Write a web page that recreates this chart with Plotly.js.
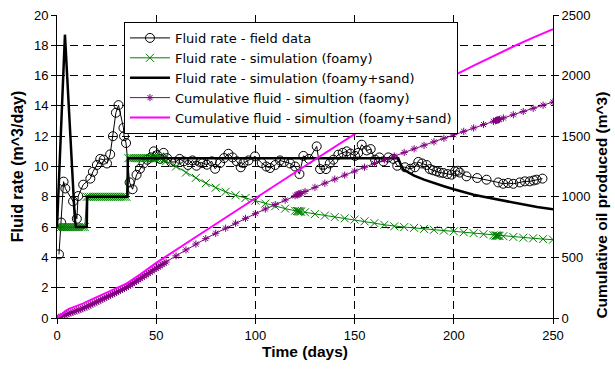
<!DOCTYPE html>
<html>
<head>
<meta charset="utf-8">
<script src="https://cdn.plot.ly/plotly-3.0.1.min.js"></script>
<style>html,body{margin:0;padding:0;background:#fff;}#chart{width:615px;height:373px;}</style>
</head>
<body>
<div id="chart"></div>
<script>
// Field data (fluid rate, m^3/day)
const fieldDays = [1,2.1,3.3,4.2,8.1,10,10.7,13.2,16.8,18.1,20.1,21.8,23.5,25.2,26.8,28.2,29.7,31,33.5,33.8,34.8,36.6,38.1,40.1,41.8,43.6,45.5,47.3,48.8,50.5,52,53.7,55.5,57.5,59.6,61.8,63.8,66,68.3,70.3,72.2,73.5,75.5,78,79.7,82.2,84.2,86.4,88.5,90.6,92.6,94,96.5,99.8,103.2,105.5,107.4,110,112.4,114.5,117.5,120,122.2,124.2,127,130.9,132.6,135.6,137.5,139.3,141.8,144,146,148,150.2,151.8,153.6,156.1,158.1,160.3,162.5,164.5,167,169.5,171.5,175.4,178,180.4,182.1,184,186.3,187.9,189.5,191.3,193,194.7,196.8,198.9,200.6,202,203,206.4,211.8,216.5,222.4,224.9,227.4,230,233.3,235.8,238.3,240.3,241.7,244.7];
const fieldRate = [4.2,6.3,9.0,8.55,7.7,6.55,8.05,8.8,9.2,9.65,10.1,10.5,10.45,10.2,10.8,12.0,13.55,14.05,12.55,12.0,11.55,8.95,8.5,9.45,9.85,10.2,10.45,10.6,11.0,10.75,10.5,10.9,10.55,10.3,10.3,10.5,10.34,10.1,10.4,10.05,10.27,10.23,10.12,10.34,9.85,10.23,10.56,10.84,10.6,10.34,9.95,10.23,10.4,10.67,10.23,10.0,9.9,10.1,10.4,10.3,10.2,10.0,9.5,10.7,10.5,11.33,9.83,9.83,10.2,10.45,10.78,10.9,11.0,10.85,10.7,10.9,11.44,11.06,11.15,10.45,10.6,10.34,10.6,10.5,10.05,9.95,9.85,9.95,10.3,10.2,10.1,9.83,9.75,9.68,9.6,9.57,9.5,9.46,9.68,9.72,9.6,9.35,9.24,9.13,8.95,8.86,8.91,8.86,8.95,9.02,9.02,9.08,9.13,9.2];

// Simulation output times (foamy model)
const simDays = [0,1,2,3,4,5,6,7,8,9,10,11,12,13,14,15,16,17,18,19,20,21,22,23,24,25,26,27,28,29,30,31,32,33,34,35,36,37,38,39,40,41,42,43,44,45,46,47,48,49,50,51,52,53,54,55,60,65,70,75,80,85,90,95,100,105,110,115,120,121,121.5,122,122.5,123,125,130,135,140,145,150,155,160,165,170,175,180,185,190,195,200,205,210,215,220,221,221.5,222,222.5,223,225,230,235,240,245,250];
const foamyRate = [6,6,6,6,6,6,6,6,6,6,6,6,6,6,6,8,8,8,8,8,8,8,8,8,8,8,8,8,8,8,8,8,8,8,8,8,10.55,10.55,10.55,10.55,10.55,10.55,10.55,10.55,10.55,10.55,10.55,10.55,10.55,10.55,10.55,10.55,10.55,10.5,10.45,10.35,10.0,9.6,9.25,8.9,8.6,8.33,8.1,7.92,7.75,7.55,7.38,7.22,7.08,7.06,7.05,7.04,7.03,7.02,6.98,6.86,6.76,6.66,6.58,6.5,6.38,6.26,6.15,6.05,6.0,5.95,5.88,5.82,5.77,5.72,5.66,5.6,5.53,5.46,5.44,5.44,5.43,5.43,5.42,5.4,5.35,5.3,5.26,5.21,5.17];
const foamyCum = [0,6,12,18,24,30,36,42,48,54,60,66,72,78,84,92,100,108,116,124,132,140,148,156,164,172,180,188,196,204,212,220,228,236,244,252,262,273,283,294,304,315,325,336,346,357,367,378,389,399,410,420,431,441,452,462,513,562,610,655,699,741,782,822,861,899,936,973,1009,1016,1020,1023,1027,1030,1044,1078,1112,1146,1179,1212,1244,1275,1306,1336,1366,1396,1425,1454,1483,1512,1540,1568,1596,1623,1628,1631,1634,1636,1639,1650,1677,1704,1730,1756,1782];

// Foamy + sand simulation
const sandDays = [0,4,9,9.6,15,15.2,35.5,35.7,172,173,174.6,180,185,190,195,200,205,210,215,221,228,235,242,250];
const sandRate = [6,18.7,6.5,6,6,8,8,10.55,10.55,10.2,9.8,9.4,9.13,8.9,8.7,8.5,8.3,8.14,8.0,7.85,7.65,7.48,7.32,7.18];
const sandCumDays = [0,2,4,6,8,10,13,17,25,35,42,50,75,100,125,150,172,180,190,200,210,220,230,240,250];
const sandCum = [0,22,55,76,88,98,118,150,208,283,360,455,722,990,1254,1517,1749,1825,1915,2000,2083,2163,2240,2313,2383];

const FONT = 'Liberation Sans, Arial, sans-serif';
const LEGEND_FONT = 'DejaVu Sans, Liberation Sans, sans-serif';

const traces = [
  {x: fieldDays, y: fieldRate, name: 'Fluid rate - field data', mode: 'lines+markers',
   line: {color: '#000000', width: 1}, marker: {symbol: 'circle-open', size: 9, color: '#000000', line: {width: 1}}},
  {x: simDays, y: foamyRate, name: 'Fluid rate - simulation (foamy)', mode: 'lines+markers',
   line: {color: '#008000', width: 1}, marker: {symbol: 'x-thin-open', size: 8, color: '#008000', line: {width: 1, color: '#008000'}}},
  {x: sandDays, y: sandRate, name: 'Fluid rate - simulation (foamy+sand)', mode: 'lines',
   line: {color: '#000000', width: 2.5}},
  {x: simDays, y: foamyCum, name: 'Cumulative fluid - simultion (faomy)', mode: 'lines+markers', yaxis: 'y2',
   line: {color: '#800080', width: 1}, marker: {symbol: 'asterisk-open', size: 6, color: '#800080', line: {width: 1, color: '#800080'}}},
  {x: sandCumDays, y: sandCum, name: 'Cumulative fluid - simultion (foamy+sand)', mode: 'lines', yaxis: 'y2',
   line: {color: '#FF00FF', width: 2}}
];

const axisCommon = {
  showline: true, linecolor: '#000', linewidth: 1, ticks: 'outside', ticklen: 5, tickcolor: '#000',
  zeroline: false, tickfont: {family: FONT, size: 13, color: '#000'}
};

const layout = {
  width: 615, height: 373,
  margin: {l: 57, r: 62, t: 15, b: 55},
  paper_bgcolor: '#fff', plot_bgcolor: '#fff',
  font: {family: FONT, color: '#000'},
  showlegend: true,
  legend: {x: 0.135, y: 0.977, xanchor: 'left', yanchor: 'top', bgcolor: '#fff', bordercolor: '#000', borderwidth: 1,
           font: {family: LEGEND_FONT, size: 13, color: '#000'}, itemwidth: 40, tracegroupgap: 0},
  xaxis: Object.assign({}, axisCommon, {range: [0, 250], tick0: 0, dtick: 50, showgrid: true, gridcolor: '#000', gridwidth: 1, griddash: '8px,5px',
    title: {text: 'Time (days)', font: {family: FONT, size: 15.5, weight: 'bold'}, standoff: 4}}),
  yaxis: Object.assign({}, axisCommon, {range: [0, 20], tick0: 0, dtick: 2, showgrid: true, gridcolor: '#000', gridwidth: 1, griddash: '8px,5px',
    title: {text: 'Fluid rate (m^3/day)', font: {family: FONT, size: 16, weight: 'bold'}, standoff: 6}}),
  yaxis2: Object.assign({}, axisCommon, {overlaying: 'y', side: 'right', range: [0, 2500], tick0: 0, dtick: 500, showgrid: false}),
  annotations: [
    {text: 'Cumulative oil produced (m^3)', textangle: -90, xref: 'paper', yref: 'paper', x: 1.098, y: 0.373,
     xanchor: 'center', yanchor: 'middle', showarrow: false, font: {family: FONT, size: 15.5, weight: 'bold', color: '#000'}}
  ]
};

Plotly.newPlot('chart', traces, layout, {displayModeBar: false, staticPlot: true});
</script>
</body>
</html>
